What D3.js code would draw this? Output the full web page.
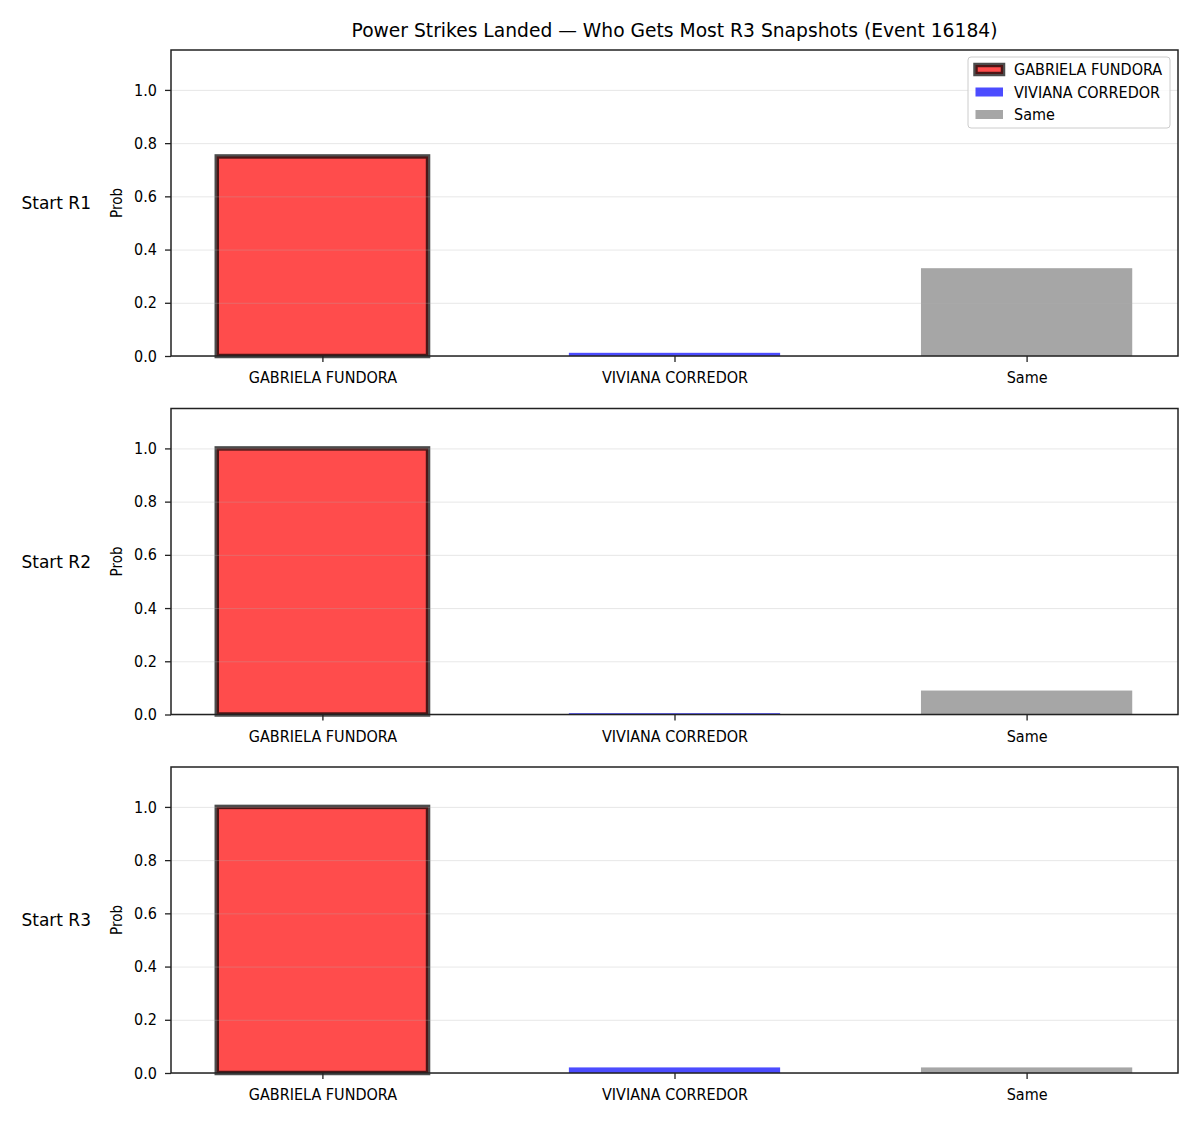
<!DOCTYPE html>
<html>
<head>
<meta charset="utf-8">
<title>Power Strikes Landed</title>
<script src="https://cdn.jsdelivr.net/npm/d3@7"></script>
<style>
  body { margin: 0; background: #fff; }
  svg text { font-family: "DejaVu Sans", sans-serif; fill: #000; }
  .tick text, .cond { font-family: "DejaVu Sans Condensed", "DejaVu Sans", sans-serif; font-stretch: condensed; font-size: 16px; }
  .grid line { stroke: #b0b0b0; stroke-opacity: 0.3; }
</style>
</head>
<body>
<script>
// chart values
var categories = ["GABRIELA FUNDORA", "VIVIANA CORREDOR", "Same"];
var rounds = ["Start R1", "Start R2", "Start R3"];
var gabriela = [0.75, 1.0, 1.0];
var viviana = [0.012, 0.005, 0.021];
var same = [0.33, 0.09, 0.021];
var yTicks = [0, 0.2, 0.4, 0.6, 0.8, 1.0];

var colors = ["rgb(255,0,0)", "rgb(0,0,255)", "rgb(128,128,128)"];

var W = 1200, H = 1125;
var left = 171, right = 1178;
var panelTops = [50, 408.5, 767];
var panelH = 306;

var svg = d3.select("body").append("svg")
    .attr("width", W)
    .attr("height", H);

svg.append("text")
    .attr("x", (left + right) / 2)
    .attr("y", 37)
    .attr("text-anchor", "middle")
    .style("font-size", "18.7px")
    .text("Power Strikes Landed \u2014 Who Gets Most R3 Snapshots (Event 16184)");

var x = d3.scaleLinear().domain([-0.43, 2.43]).range([left, right]);
var barW = x(0.3) - x(-0.3);

rounds.forEach(function(r, i) {
    var top = panelTops[i];
    var y = d3.scaleLinear().domain([0, 1.15]).range([top + panelH, top]);
    var vals = [gabriela[i], viviana[i], same[i]];
    var g = svg.append("g");

    // bars
    g.selectAll("rect.bar")
        .data(vals)
        .enter()
        .append("rect")
        .attr("class", "bar")
        .attr("x", function(d, k) { return x(k) - barW / 2; })
        .attr("y", function(d) { return y(d); })
        .attr("width", barW)
        .attr("height", function(d) { return y(0) - y(d); })
        .attr("fill", function(d, k) { return colors[k]; })
        .attr("fill-opacity", 0.7)
        .attr("stroke", function(d, k) { return k == 0 ? "#000" : "none"; })
        .attr("stroke-opacity", 0.7)
        .attr("stroke-width", 4.5);

    // grid on top of bars like matplotlib
    g.append("g")
        .attr("class", "grid")
        .attr("transform", "translate(" + left + ",0)")
        .call(d3.axisLeft(y).tickValues(yTicks).tickSize(-(right - left)).tickFormat(""))
        .call(function(s) { s.select(".domain").remove(); });

    // y axis
    var ya = g.append("g")
        .attr("transform", "translate(" + left + ",0)")
        .call(d3.axisLeft(y).tickValues(yTicks).tickSize(6).tickPadding(8).tickFormat(d3.format(".1f")));
    ya.select(".domain").remove();
    ya.selectAll(".tick line").attr("stroke", "#222").attr("stroke-width", 1.3);

    // x axis
    var xa = g.append("g")
        .attr("transform", "translate(0," + (top + panelH) + ")")
        .call(d3.axisBottom(x).tickValues([0, 1, 2]).tickSize(6).tickPadding(10)
            .tickFormat(function(k) { return categories[k]; }));
    xa.select(".domain").remove();
    xa.selectAll(".tick line").attr("stroke", "#222").attr("stroke-width", 1.3);

    // frame
    g.append("rect")
        .attr("x", left)
        .attr("y", top)
        .attr("width", right - left)
        .attr("height", panelH)
        .attr("fill", "none")
        .attr("stroke", "#222")
        .attr("stroke-width", 1.5);

    // y label
    g.append("text")
        .attr("class", "cond")
        .attr("transform", "translate(122," + (top + panelH / 2) + ") rotate(-90)")
        .attr("text-anchor", "middle")
        .style("font-size", "15px")
        .text("Prob");

    // row label
    g.append("text")
        .attr("x", 91)
        .attr("y", top + panelH / 2 + 6)
        .attr("text-anchor", "end")
        .style("font-size", "17px")
        .text(r);
});

// legend
var leg = svg.append("g").attr("transform", "translate(968,57)");
leg.append("rect")
    .attr("width", 202)
    .attr("height", 71)
    .attr("rx", 3)
    .attr("fill", "#fff")
    .attr("fill-opacity", 0.8)
    .attr("stroke", "#ccc");

categories.forEach(function(c, k) {
    var ly = 12.5 + k * 22.5;
    leg.append("rect")
        .attr("x", 7.5)
        .attr("y", ly - 4.5)
        .attr("width", 27.5)
        .attr("height", 9)
        .attr("fill", colors[k])
        .attr("fill-opacity", 0.7)
        .attr("stroke", k == 0 ? "#000" : "none")
        .attr("stroke-opacity", 0.7)
        .attr("stroke-width", 4.5);
    leg.append("text")
        .attr("class", "cond")
        .attr("x", 46)
        .attr("y", ly + 5.5)
        .text(c);
});
</script>
</body>
</html>
